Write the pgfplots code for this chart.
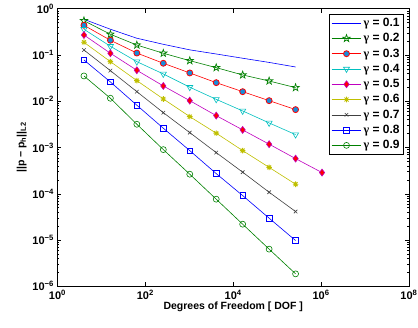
\documentclass[border=0pt]{standalone}
\usepackage{fontspec}
\setmainfont{Liberation Sans}
\newfontfamily\gfont{Liberation Serif}
\usepackage{pgfplots}
\pgfplotsset{compat=1.18}
\usetikzlibrary{plotmarks}
\definecolor{mgreen}{rgb}{0,0.5,0}
\definecolor{mcyan}{rgb}{0,0.75,0.75}
\definecolor{mmag}{rgb}{0.75,0,0.75}
\definecolor{myel}{rgb}{0.75,0.75,0}
\definecolor{mgray}{rgb}{0.25,0.25,0.25}
\definecolor{mfill}{rgb}{0.1,0.55,0.85}
\pgfdeclareplotmark{pentagram}{%
  \pgfpathmoveto{\pgfpointpolar{90}{\pgfplotmarksize}}%
  \pgfpathlineto{\pgfpointpolar{126}{0.40\pgfplotmarksize}}%
  \pgfpathlineto{\pgfpointpolar{162}{\pgfplotmarksize}}%
  \pgfpathlineto{\pgfpointpolar{198}{0.40\pgfplotmarksize}}%
  \pgfpathlineto{\pgfpointpolar{234}{\pgfplotmarksize}}%
  \pgfpathlineto{\pgfpointpolar{270}{0.40\pgfplotmarksize}}%
  \pgfpathlineto{\pgfpointpolar{306}{\pgfplotmarksize}}%
  \pgfpathlineto{\pgfpointpolar{342}{0.40\pgfplotmarksize}}%
  \pgfpathlineto{\pgfpointpolar{18}{\pgfplotmarksize}}%
  \pgfpathlineto{\pgfpointpolar{54}{0.40\pgfplotmarksize}}%
  \pgfpathclose\pgfusepathqstroke}
\pgfdeclareplotmark{aster8}{%
  \pgfpathmoveto{\pgfqpoint{-\pgfplotmarksize}{0pt}}\pgfpathlineto{\pgfqpoint{\pgfplotmarksize}{0pt}}%
  \pgfpathmoveto{\pgfqpoint{0pt}{-\pgfplotmarksize}}\pgfpathlineto{\pgfqpoint{0pt}{\pgfplotmarksize}}%
  \pgfpathmoveto{\pgfpoint{-0.707\pgfplotmarksize}{-0.707\pgfplotmarksize}}\pgfpathlineto{\pgfpoint{0.707\pgfplotmarksize}{0.707\pgfplotmarksize}}%
  \pgfpathmoveto{\pgfpoint{-0.707\pgfplotmarksize}{0.707\pgfplotmarksize}}\pgfpathlineto{\pgfpoint{0.707\pgfplotmarksize}{-0.707\pgfplotmarksize}}%
  \pgfusepathqstroke}
\newcommand{\g}{{\gfont\bfseries γ}}
\begin{document}
\begin{tikzpicture}
\useasboundingbox (-57.5pt,-40.7pt) rectangle (360.5pt,286.3pt);
\begin{axis}[
  at={(0,0)}, anchor=south west,
  scale only axis, width=351.5pt, height=277.6pt,
  xmode=log, ymode=log,
  xmin=1, xmax=1e8, ymin=1e-6, ymax=1,
  xtick={1,1e2,1e4,1e6,1e8},
  xticklabels={10\textsuperscript{0},10\textsuperscript{2},10\textsuperscript{4},10\textsuperscript{6},10\textsuperscript{8}},
  ytick={1e-6,1e-5,1e-4,1e-3,1e-2,1e-1,1},
  yticklabels={10\textsuperscript{−6},10\textsuperscript{−5},10\textsuperscript{−4},10\textsuperscript{−3},10\textsuperscript{−2},10\textsuperscript{−1},10\textsuperscript{0}},
  xminorticks=false,
  tick align=inside,
  major tick length=4pt, minor tick length=2pt,
  axis line style={line width=1pt},
  every tick/.style={black, line width=0.5pt},
  tick label style={font=\fontsize{11}{13}\selectfont\bfseries},
  xlabel={Degrees of Freedom [ DOF ]},
  ylabel={||p − p\textsubscript{h}||\textsubscript{L2}},
  label style={font=\fontsize{10.5}{12}\selectfont\bfseries},
  xlabel style={yshift=4pt},
  ylabel style={yshift=-1pt},
  legend style={at={(0.986,0.982)}, anchor=north east, draw=black, line width=1pt,
    font=\fontsize{12}{14}\selectfont\bfseries, row sep=1.4pt, inner xsep=2pt, inner ysep=2pt},
  legend image code/.code={\draw[mark repeat=2,mark phase=2] plot coordinates {(0cm,0cm) (0.52cm,0cm) (1.04cm,0cm)};},
  legend cell align=left,
  every axis plot/.append style={line width=0.6pt},
]
\addplot[blue, no marks] coordinates {(4,0.59)(16,0.36)(64,0.23)(256,0.17)(1024,0.129)(4096,0.105)(16384,0.085)(65536,0.069)(262144,0.055)};
\addlegendentry{\g\ = 0.1}
\addplot[mgreen, mark=pentagram, mark size=3.8pt, mark options={line width=0.7pt}] coordinates {(4,0.55)(16,0.28)(64,0.164)(256,0.109)(1024,0.0753)(4096,0.0532)(16384,0.037)(65536,0.0274)(262144,0.0197)};
\addlegendentry{\g\ = 0.2}
\addplot[red, mark=*, mark size=3pt, mark options={fill=mfill, draw=red, line width=0.8pt}] coordinates {(4,0.438)(16,0.208)(64,0.110)(256,0.0662)(1024,0.0409)(4096,0.0252)(16384,0.0161)(65536,0.0103)(262144,0.00659)};
\addlegendentry{\g\ = 0.3}
\addplot[mcyan, mark=triangle, mark size=3.5pt, mark options={rotate=180}] coordinates {(4,0.359)(16,0.154)(64,0.0717)(256,0.0389)(1024,0.0201)(4096,0.0110)(16384,0.00617)(65536,0.0034)(262144,0.0019)};
\addlegendentry{\g\ = 0.4}
\addplot[mmag, mark=diamond*, mark size=3.5pt, mark options={fill=red, draw=mmag}] coordinates {(4,0.270)(16,0.109)(64,0.0467)(256,0.0214)(1024,0.0103)(4096,0.00489)(16384,0.0024)(65536,0.00118)(262144,0.000576)(1048576,0.000287)};
\addlegendentry{\g\ = 0.5}
\addplot[myel, mark=aster8, mark size=2.8pt, mark options={line width=0.9pt}] coordinates {(4,0.188)(16,0.0717)(64,0.0279)(256,0.0112)(1024,0.00465)(4096,0.00204)(16384,0.000857)(65536,0.000372)(262144,0.000161)};
\addlegendentry{\g\ = 0.6}
\addplot[mgray, mark=x, mark size=2.5pt] coordinates {(4,0.128)(16,0.0458)(64,0.0161)(256,0.00567)(1024,0.0021)(4096,0.000776)(16384,0.000293)(65536,0.000108)(262144,4.13e-5)};
\addlegendentry{\g\ = 0.7}
\addplot[blue, mark=square, mark size=2.8pt] coordinates {(4,0.078)(16,0.0261)(64,0.0082)(256,0.00261)(1024,0.000857)(4096,0.000273)(16384,9.14e-5)(65536,2.97e-5)(262144,9.75e-6)};
\addlegendentry{\g\ = 0.8}
\addplot[mgreen, mark=o, mark size=3pt] coordinates {(4,0.0352)(16,0.0116)(64,0.00318)(256,0.000901)(1024,0.000265)(4096,7.64e-5)(16384,2.2e-5)(65536,6.36e-6)(262144,1.86e-6)};
\addlegendentry{\g\ = 0.9}
\end{axis}
\end{tikzpicture}
\end{document}
